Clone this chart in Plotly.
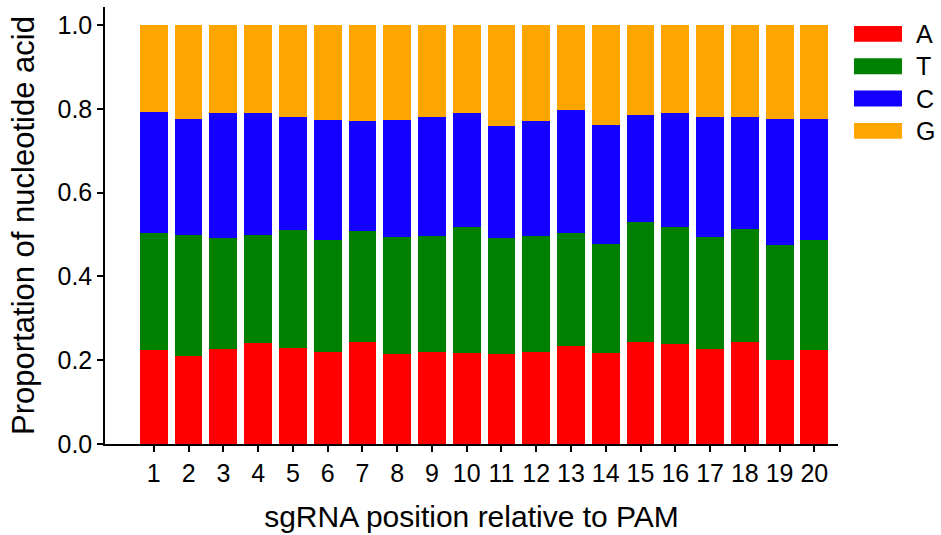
import plotly.graph_objects as go

# sgRNA positions 1..20 relative to the PAM
positions = list(range(1, 21))
tick_labels = [str(p) for p in positions]

# Per-position nucleotide proportions
prop_A = [0.224, 0.210, 0.226, 0.242, 0.230, 0.220, 0.244, 0.214, 0.220, 0.217,
          0.215, 0.219, 0.234, 0.217, 0.244, 0.238, 0.226, 0.244, 0.201, 0.224]
prop_T = [0.280, 0.290, 0.265, 0.257, 0.281, 0.266, 0.264, 0.280, 0.276, 0.302,
          0.276, 0.277, 0.270, 0.261, 0.286, 0.279, 0.268, 0.270, 0.275, 0.263]
prop_C = [0.289, 0.276, 0.298, 0.291, 0.270, 0.288, 0.262, 0.280, 0.285, 0.272,
          0.268, 0.274, 0.293, 0.283, 0.256, 0.272, 0.287, 0.266, 0.300, 0.289]
prop_G = [0.207, 0.224, 0.211, 0.210, 0.219, 0.226, 0.230, 0.226, 0.219, 0.209,
          0.241, 0.230, 0.203, 0.239, 0.214, 0.211, 0.219, 0.220, 0.224, 0.224]

series = [
    ("A", prop_A, "#ff0000"),
    ("T", prop_T, "#008000"),
    ("C", prop_C, "#1400ff"),
    ("G", prop_G, "#ffa500"),
]

font_family = "Liberation Sans, Arial, sans-serif"

fig = go.Figure()
for name, vals, color in series:
    fig.add_trace(go.Bar(
        x=positions, y=vals, name=name,
        marker=dict(color=color, line=dict(width=0)),
        showlegend=False,
    ))

# Legend key: wide colour bars with the base letter beside each one
key_x0, key_x1, text_x = 1.0218, 1.0873, 1.1037
key_top, row_step, key_h = 0.9567, 0.074, 0.0364
for i, (name, vals, color) in enumerate(series):
    y1 = key_top - i * row_step
    y0 = y1 - key_h
    fig.add_shape(type="rect", xref="paper", yref="paper",
                  x0=key_x0, x1=key_x1, y0=y0, y1=y1,
                  fillcolor=color, line=dict(width=0))
    fig.add_annotation(xref="paper", yref="paper", x=text_x, y=(y0 + y1) / 2,
                       text=name, showarrow=False, xanchor="left", yanchor="middle",
                       font=dict(family=font_family, size=25, color="black"))

axis_common = dict(
    showline=True, linecolor="black", linewidth=1.5,
    ticks="outside", ticklen=6, tickwidth=1.5, tickcolor="black",
    showgrid=False, zeroline=False,
    tickfont=dict(family=font_family, size=25, color="black"),
)

fig.update_layout(
    barmode="stack",
    bargap=0.2,
    width=941, height=535,
    margin=dict(l=105, r=103, t=7, b=89),
    plot_bgcolor="white", paper_bgcolor="white",
    font=dict(family=font_family, color="black"),
    showlegend=False,
    xaxis=dict(
        **axis_common,
        range=[-0.404, 20.68],
        tickmode="array", tickvals=positions, ticktext=tick_labels,
        title=dict(text="sgRNA position relative to PAM",
                   font=dict(family=font_family, size=30, color="black"),
                   standoff=20),
    ),
    yaxis=dict(
        **axis_common,
        range=[0, 1.043],
        tickmode="array", tickvals=[0, 0.2, 0.4, 0.6, 0.8, 1.0],
        ticktext=["0.0", "0.2", "0.4", "0.6", "0.8", "1.0"],
        title=dict(text="Proportation of nucleotide acid",
                   font=dict(family=font_family, size=31, color="black"),
                   standoff=14),
    ),
)

fig.write_html("out.html")
